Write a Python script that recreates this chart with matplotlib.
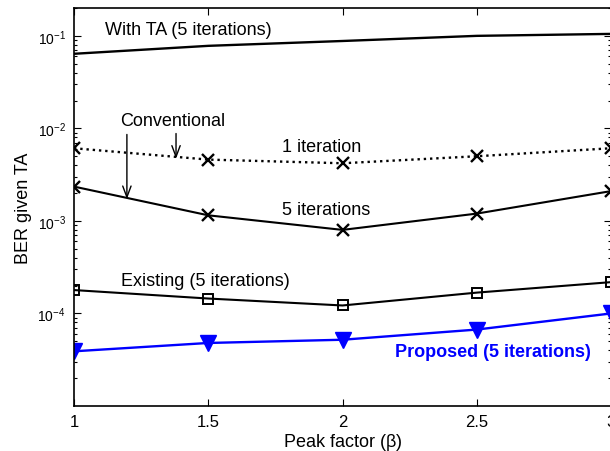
import math
import matplotlib
matplotlib.use("Agg")
import matplotlib.pyplot as plt
from matplotlib.ticker import FixedLocator, LogLocator, NullFormatter, FuncFormatter

plt.rcParams['font.family'] = ['Liberation Sans', 'DejaVu Sans']
plt.rcParams['mathtext.fontset'] = 'custom'
plt.rcParams['mathtext.rm'] = 'Liberation Sans'
plt.rcParams['mathtext.it'] = 'Liberation Sans:italic'

peak_factor = [1, 1.5, 2, 2.5, 3]
with_ta = [0.064, 0.078, 0.088, 0.100, 0.105]
conv_1iter = [0.0061, 0.0046, 0.0042, 0.0050, 0.0061]
conv_5iter = [0.00235, 0.00115, 0.00080, 0.00120, 0.0021]
existing_5iter = [0.000179, 0.000145, 0.000122, 0.000168, 0.000218]
proposed_5iter = [3.9e-5, 4.8e-5, 5.2e-5, 6.7e-5, 1.0e-4]
x_ticks = [1, 1.5, 2, 2.5, 3]
x_tick_labels = ['1', '1.5', '2', '2.5', '3']
y_ticks = [1e-4, 1e-3, 1e-2, 1e-1]

fig = plt.figure(figsize=(6.10, 4.52), dpi=100)
ax = fig.add_axes([74/610, 1-407/452, (611-74)/610, (407-9)/452])

ax.plot(peak_factor, with_ta, color='black', lw=1.7)
ax.plot(peak_factor, conv_1iter, color='black', lw=1.7, ls=':', marker='x',
        ms=8, mew=1.7)
ax.plot(peak_factor, conv_5iter, color='black', lw=1.5, marker='x', ms=8, mew=1.7)
ax.plot(peak_factor, existing_5iter, color='black', lw=1.5, marker='s', ms=7,
        mfc='none', mew=1.4)
ax.plot(peak_factor, proposed_5iter, color='#0000ff', lw=1.7, marker='v', ms=11,
        mfc='#0000ff', mec='#0000ff')

ax.set_yscale('log')
ax.set_xlim(1, 3)
ax.set_ylim(1.0e-5, 0.2)
ax.set_xticks(x_ticks)
ax.set_xticklabels(x_tick_labels)
ax.yaxis.set_major_locator(FixedLocator(y_ticks))
ax.yaxis.set_major_formatter(FuncFormatter(
    lambda v, p: r'$\mathregular{10^{%d}}$' % round(math.log10(v))))
ax.yaxis.set_minor_locator(LogLocator(base=10, subs=range(2, 10)))
ax.yaxis.set_minor_formatter(NullFormatter())

ax.tick_params(which='both', direction='in', top=True, right=True, width=0.8)
ax.tick_params(axis='x', labelsize=12, pad=6)
ax.tick_params(axis='y', labelsize=10, pad=6)
ax.tick_params(which='major', length=5)
ax.tick_params(which='minor', length=2.5)
for s in ax.spines.values():
    s.set_linewidth(1.2)

ax.set_xlabel(r'Peak factor ($\mathregular{\beta}$)', fontsize=13, labelpad=1)
ax.set_ylabel('BER given TA', fontsize=13)
ax.yaxis.set_label_coords(-0.078, 0.5)

fs = 13
ax.text(1.115, 0.116, 'With TA (5 iterations)', fontsize=fs, va='center', ha='left')
ax.text(1.171, 0.0122, 'Conventional', fontsize=fs, va='center', ha='left')
ax.text(1.773, 0.0064, '1 iteration', fontsize=fs, va='center', ha='left')
ax.text(1.773, 0.00132, '5 iterations', fontsize=fs, va='center', ha='left')
ax.text(1.175, 0.000228, 'Existing (5 iterations)', fontsize=fs, va='center', ha='left')
ax.text(2.197, 3.85e-5, 'Proposed (5 iterations)', fontsize=fs, va='center',
        ha='left', color='#0000ff', fontweight='bold')

arrow_kw = dict(arrowstyle='->,head_length=0.8,head_width=0.3', color='black',
                lw=1.0, shrinkA=0, shrinkB=0)
ax.annotate('', xy=(1.197, 0.00172), xytext=(1.197, 0.0086), arrowprops=arrow_kw)
ax.annotate('', xy=(1.38, 0.0047), xytext=(1.38, 0.0088), arrowprops=arrow_kw)

fig.savefig('out.png', dpi=100)
